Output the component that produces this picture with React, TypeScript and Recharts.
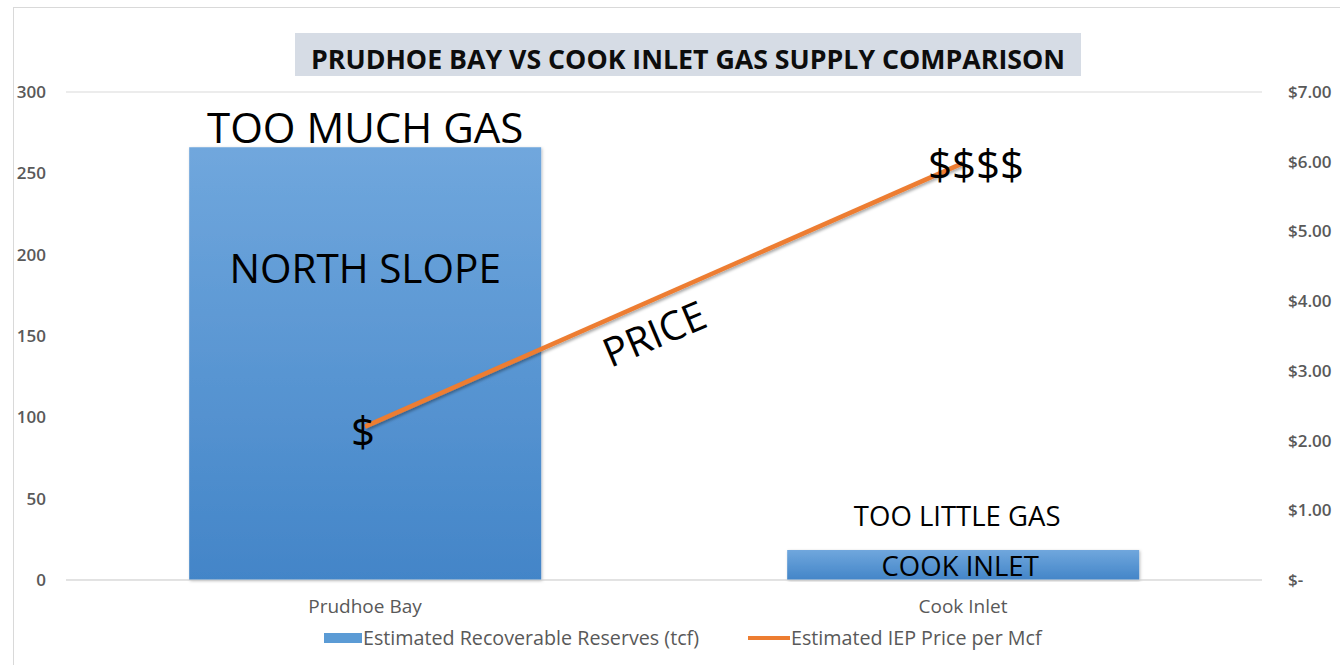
import React from 'react';
import { ComposedChart, Bar, Line, XAxis, YAxis, CartesianGrid, Legend, LabelList } from 'recharts';

const categories = ['Prudhoe Bay', 'Cook Inlet'];
const reserves = [266, 18.5];
const prices = [2.2, 5.98];
const leftTicks = [0, 50, 100, 150, 200, 250, 300];
const rightTicks = [0, 1, 2, 3, 4, 5, 6, 7];
const barTopNotes = ['TOO MUCH GAS', 'TOO LITTLE GAS'];
const barInsideNotes = ['NORTH SLOPE', 'COOK INLET'];
const pointNotes = ['$', '$$$$'];
const title = 'PRUDHOE BAY VS COOK INLET GAS SUPPLY COMPARISON';
const lineNote = 'PRICE';
const seriesNames = ['Estimated Recoverable Reserves (tcf)', 'Estimated IEP Price per Mcf'];

const data = categories.map((c, i) => ({ name: c, reserves: reserves[i], price: prices[i] }));

const FONT = '"Open Sans", "Noto Sans", sans-serif';
const BLUE_TOP = '#70a7dd';
const BLUE_BOT = '#4385c8';
const ORANGE = '#ed7d31';

const fmtPrice = (v: number) => (v === 0 ? '$-' : `$${v.toFixed(2)}`);

const TopLabel = (props: any) => {
  const { x, y, width, index } = props;
  const big = index === 0;
  return (
    <text x={x + width / 2 + (big ? 0 : -6)} y={big ? y - 4 : y - 24} textAnchor="middle" fontFamily={FONT}
      fontSize={big ? 42 : 27.5} fill="#000">{barTopNotes[index]}</text>
  );
};

const InsideLabel = (props: any) => {
  const { x, y, width, index } = props;
  const big = index === 0;
  return (
    <text x={x + width / 2 + (big ? 0 : -3)} y={big ? y + 136 : y + 26} textAnchor="middle" fontFamily={FONT}
      fontSize={big ? 40.5 : 27.5} fill="#000">{barInsideNotes[index]}</text>
  );
};

const PointLabel = (props: any) => {
  const { x, y, index } = props;
  const many = index === 1;
  return (
    <text x={many ? x + 13 : x - 2} y={many ? y + 17 : y + 20} textAnchor="middle" fontFamily={FONT}
      fontSize={42} fill="#000">{pointNotes[index]}</text>
  );
};

const LegendContent = () => (
  <div style={{ position: 'relative', width: 1340, height: 30, fontFamily: FONT, fontSize: 19.7, color: '#595959' }}>
    <div style={{ position: 'absolute', left: 324, top: 10, width: 38, height: 10, background: '#5b9bd5' }} />
    <div style={{ position: 'absolute', left: 363, top: 1, whiteSpace: 'nowrap', lineHeight: '28px' }}>{seriesNames[0]}</div>
    <div style={{ position: 'absolute', left: 748, top: 13, width: 42, height: 4, background: ORANGE }} />
    <div style={{ position: 'absolute', left: 791, top: 1, whiteSpace: 'nowrap', lineHeight: '28px' }}>{seriesNames[1]}</div>
  </div>
);

export default function App() {
  return (
    <div style={{ position: 'absolute', left: 0, top: 0, width: 1340, height: 665, background: '#fff', overflow: 'hidden' }}>
      <ComposedChart width={1340} height={665} data={data}
        margin={{ top: 92, right: 0, bottom: 25, left: 0 }} barCategoryGap="20.6%">
        <defs>
          <linearGradient id="barGrad" x1="0" y1="0" x2="0" y2="1">
            <stop offset="0%" stopColor={BLUE_TOP} />
            <stop offset="100%" stopColor={BLUE_BOT} />
          </linearGradient>
          <filter id="lineShadow" x="-10%" y="-10%" width="120%" height="130%">
            <feDropShadow dx="1" dy="2" stdDeviation="1.5" floodColor="#000" floodOpacity="0.35" />
          </filter>
          <filter id="barShadow" x="-5%" y="-5%" width="110%" height="110%">
            <feDropShadow dx="1" dy="1" stdDeviation="1.5" floodColor="#000" floodOpacity="0.25" />
          </filter>
        </defs>
        <CartesianGrid vertical={false} stroke="#d9d9d9" strokeWidth={1} />
        <XAxis dataKey="name" axisLine={{ stroke: '#d9d9d9' }} tickLine={false} tickSize={0} tickMargin={20}
          tick={{ fontFamily: FONT, fontSize: 19, fill: '#595959' }} interval={0} />
        <YAxis yAxisId="left" orientation="left" width={66} domain={[0, 300]} ticks={leftTicks}
          axisLine={false} tickLine={false} tickSize={0} tickMargin={20}
          tick={{ fontFamily: FONT, fontSize: 17, fontWeight: 600, fill: '#595959' }} />
        <YAxis yAxisId="right" orientation="right" width={78} domain={[0, 7]} ticks={rightTicks}
          axisLine={false} tickLine={false} tickSize={0} tickMargin={26} tickFormatter={fmtPrice}
          tick={{ fontFamily: FONT, fontSize: 17, fontWeight: 600, fill: '#595959' }} />
        <Bar yAxisId="left" dataKey="reserves" name={seriesNames[0]} fill="url(#barGrad)"
          isAnimationActive={false} style={{ filter: 'url(#barShadow)' }}>
          <LabelList dataKey="reserves" content={TopLabel} />
          <LabelList dataKey="reserves" content={InsideLabel} />
        </Bar>
        <Line yAxisId="right" dataKey="price" name={seriesNames[1]} stroke={ORANGE} strokeWidth={4.5}
          dot={false} activeDot={false} isAnimationActive={false} style={{ filter: 'url(#lineShadow)' }}>
          <LabelList dataKey="price" content={PointLabel} />
        </Line>
        <Legend verticalAlign="bottom" height={30} content={LegendContent}
          wrapperStyle={{ position: 'absolute', left: 0, top: 623, width: 1340, height: 30 }} />
      </ComposedChart>
      <svg width={1340} height={665} style={{ position: 'absolute', left: 0, top: 0, pointerEvents: 'none' }}>
        <rect x={13.5} y={7.5} width={1400} height={700} fill="none" stroke="#d9d9d9" strokeWidth={1} />
        <rect x={295} y={33} width={786} height={43} fill="#d6dce5" />
        <text x={311} y={69} fontFamily={FONT} fontWeight={700} fontSize={27} fill="#0d0d0d"
          textLength={754} lengthAdjust="spacingAndGlyphs">{title}</text>
        <text x={0} y={0} fontFamily={FONT} fontSize={40} fill="#000" textAnchor="middle"
          transform="translate(660 347) rotate(-23)">{lineNote}</text>
      </svg>
    </div>
  );
}
